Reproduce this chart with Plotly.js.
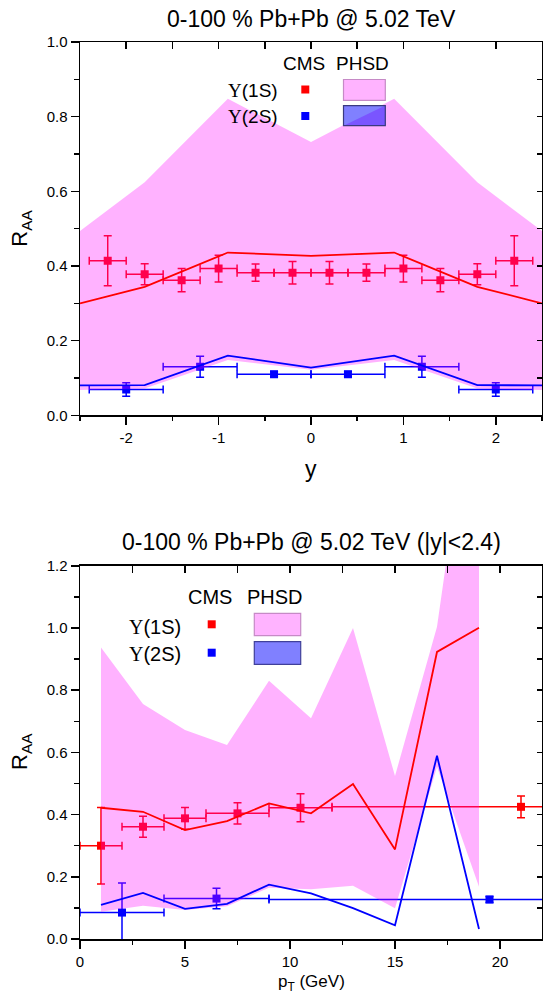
<!DOCTYPE html>
<html><head><meta charset="utf-8">
<script src="https://cdn.plot.ly/plotly-3.0.1.min.js"></script>
<style>body{margin:0;padding:0;background:#fff}</style>
</head><body><div id="chart" style="width:543px;height:998px"></div>
<script>
// ---------- top panel: rapidity dependence ----------
const cmsRap1S = [-2.2,-1.8,-1.4,-1.0,-0.6,-0.2,0.2,0.6,1.0,1.4,1.8,2.2];
const cmsRaa1S_y = [0.414,0.378,0.362,0.393,0.382,0.382,0.382,0.382,0.393,0.362,0.378,0.414];
const cmsErr1S_y = [0.067,0.028,0.031,0.036,0.023,0.030,0.030,0.023,0.036,0.031,0.028,0.067];
const cmsXErr1S_y = [0.2,0.2,0.2,0.2,0.2,0.2,0.2,0.2,0.2,0.2,0.2,0.2];

const cmsRap2S = [-2.0,-1.2,-0.4,0.4,1.2,2.0];
const cmsRaa2S_y = [0.069,0.130,0.110,0.110,0.130,0.069];
const cmsErr2S_y = [0.018,0.028,0.007,0.007,0.028,0.018];
const cmsXErr2S_y = [0.4,0.4,0.4,0.4,0.4,0.4];

const phsdRap = [-2.5,-1.8,-0.9,0.0,0.9,1.8,2.5];
const phsd1S_y = [0.300,0.344,0.436,0.427,0.436,0.344,0.300];
const phsd2S_y = [0.080,0.081,0.160,0.128,0.160,0.081,0.080];
const bandUp_y = [0.494,0.624,0.848,0.732,0.848,0.624,0.494];
const bandLo_y = [0.068,0.072,0.148,0.122,0.148,0.072,0.068];

const rapTickVals = [-2,-1,0,1,2];
const rapTickText = ['-2','-1','0','1','2'];

// ---------- bottom panel: pT dependence ----------
const cmsPt1S = [1,3,5,7.5,10.5,21];
const cmsRaa1S_pt = [0.300,0.361,0.388,0.404,0.422,0.425];
const cmsErr1S_pt = [0.123,0.034,0.035,0.034,0.045,0.035];
const cmsXErr1S_pt = [1,1,1,1.5,1.5,9];

const cmsPt2S = [2,6.5,19.5];
const cmsRaa2S_pt = [0.085,0.130,0.127];
const cmsErr2S_pt = [0.095,0.033,0.010];
const cmsXErr2S_pt = [2,2.5,10.5];

const phsdPt = [1,3,5,7,9,11,13,15,17,19];
const phsd1S_pt = [0.422,0.409,0.350,0.379,0.436,0.404,0.498,0.288,0.923,1.001];
const phsd2S_pt = [0.110,0.148,0.097,0.113,0.175,0.147,0.099,0.044,0.589,0.032];
const bandUp_pt = [0.937,0.756,0.672,0.624,0.830,0.710,1.000,0.524,1.004,1.950];
const bandLo_pt = [0.088,0.107,0.093,0.105,0.165,0.160,0.171,0.099,0.554,0.168];

// ---------- styling ----------
const RED = '#ff0000', BLUE = '#0000ff', BAND = 'rgba(255,0,255,0.3)';
const SANS = 'Liberation Sans, Arial, sans-serif';
const SERIF = 'Liberation Serif';
const W = 543, H = 998, ML = 80, MR = 1, MT = 42, MB = 59;
const fx = px => (px - ML) / (W - ML - MR);
const fy = py => (H - MB - py) / (H - MT - MB);

function cmsTrace(x, y, ey, ex, color, xa, ya) {
  return {x, y, xaxis: xa, yaxis: ya, type: 'scatter', mode: 'markers',
    marker: {symbol: 'square', size: 8, color},
    error_y: {type: 'data', array: ey, visible: true, color, thickness: 1.5, width: 4},
    error_x: {type: 'data', array: ex, visible: true, color, thickness: 1.5, width: 4},
    showlegend: false, hoverinfo: 'skip'};
}
function bandTrace(x, up, lo, xa, ya) {
  return {x: x.concat(x.slice().reverse()), y: up.concat(lo.slice().reverse()),
    xaxis: xa, yaxis: ya, type: 'scatter', mode: 'none', fill: 'toself',
    fillcolor: BAND, showlegend: false, hoverinfo: 'skip'};
}
function lineTrace(x, y, color, xa, ya) {
  return {x, y, xaxis: xa, yaxis: ya, type: 'scatter', mode: 'lines',
    line: {color, width: 1.8}, showlegend: false, hoverinfo: 'skip'};
}
function emptyTrace(xa, ya) {
  return {x: [], y: [], xaxis: xa, yaxis: ya, type: 'scatter', mode: 'markers',
    showlegend: false, hoverinfo: 'skip'};
}

const data = [
  cmsTrace(cmsRap1S, cmsRaa1S_y, cmsErr1S_y, cmsXErr1S_y, RED, 'x', 'y'),
  cmsTrace(cmsRap2S, cmsRaa2S_y, cmsErr2S_y, cmsXErr2S_y, BLUE, 'x', 'y'),
  bandTrace(phsdRap, bandUp_y, bandLo_y, 'x', 'y'),
  lineTrace(phsdRap, phsd1S_y, RED, 'x', 'y'),
  lineTrace(phsdRap, phsd2S_y, BLUE, 'x', 'y'),
  cmsTrace(cmsPt1S, cmsRaa1S_pt, cmsErr1S_pt, cmsXErr1S_pt, RED, 'x2', 'y2'),
  cmsTrace(cmsPt2S, cmsRaa2S_pt, cmsErr2S_pt, cmsXErr2S_pt, BLUE, 'x2', 'y2'),
  bandTrace(phsdPt, bandUp_pt, bandLo_pt, 'x2', 'y2'),
  lineTrace(phsdPt, phsd1S_pt, RED, 'x2', 'y2'),
  lineTrace(phsdPt, phsd2S_pt, BLUE, 'x2', 'y2'),
  emptyTrace('x3', 'y'), emptyTrace('x', 'y3'),
  emptyTrace('x4', 'y2'), emptyTrace('x2', 'y4')
];

const topDom = [fy(415.3), 1];
const botDom = [0, fy(565.8)];
const baseAx = {showline: true, linecolor: '#000', linewidth: 1.5, mirror: true,
  showgrid: false, zeroline: false, ticks: 'outside', ticklen: 8, tickwidth: 1.5,
  tickcolor: '#000', tickfont: {family: SANS, size: 15, color: '#000'}, fixedrange: true};
const overAx = {showline: false, showgrid: false, zeroline: false, ticks: 'inside',
  tickwidth: 1.5, tickcolor: '#000', showticklabels: false, fixedrange: true};

const layout = {
  width: W, height: H, margin: {l: ML, r: MR, t: MT, b: MB},
  paper_bgcolor: '#fff', plot_bgcolor: '#fff', showlegend: false,
  font: {family: SANS, color: '#000'},
  xaxis: Object.assign({}, baseAx, {domain: [0, 1], anchor: 'y', range: [-2.5, 2.5],
    tickvals: rapTickVals, ticktext: rapTickText,
    minor: {tick0: 0, dtick: 0.5, ticks: 'outside', ticklen: 4.5, tickwidth: 1.5, tickcolor: '#000'}}),
  yaxis: Object.assign({}, baseAx, {domain: topDom, anchor: 'x', range: [0, 1],
    dtick: 0.2, tick0: 0, tickformat: '.1f',
    minor: {tick0: 0, dtick: 0.1, ticks: 'outside', ticklen: 4.5, tickwidth: 1.5, tickcolor: '#000'}}),
  xaxis3: Object.assign({}, overAx, {overlaying: 'x', anchor: 'y', side: 'top',
    range: [-2.5, 2.5], tick0: 0, dtick: 0.5, ticklen: 7}),
  yaxis3: Object.assign({}, overAx, {overlaying: 'y', anchor: 'x', side: 'right',
    range: [0, 1], tick0: 0, dtick: 0.1, ticklen: 5}),
  xaxis2: Object.assign({}, baseAx, {domain: [0, 1], anchor: 'y2', range: [0, 22],
    tick0: 0, dtick: 5,
    minor: {tick0: 0, dtick: 2.5, ticks: 'outside', ticklen: 4.5, tickwidth: 1.5, tickcolor: '#000'}}),
  yaxis2: Object.assign({}, baseAx, {domain: botDom, anchor: 'x2', range: [0, 1.2],
    tick0: 0, dtick: 0.2, tickformat: '.1f',
    minor: {tick0: 0, dtick: 0.1, ticks: 'outside', ticklen: 4.5, tickwidth: 1.5, tickcolor: '#000'}}),
  xaxis4: Object.assign({}, overAx, {overlaying: 'x2', anchor: 'y2', side: 'top',
    range: [0, 22], tick0: 0, dtick: 2.5, ticklen: 7}),
  yaxis4: Object.assign({}, overAx, {overlaying: 'y2', anchor: 'x2', side: 'right',
    range: [0, 1.2], tick0: 0, dtick: 0.1, ticklen: 5}),
  annotations: [],
  shapes: []
};

function txt(text, px, py, size, extra) {
  layout.annotations.push(Object.assign({text, x: fx(px), y: fy(py), xref: 'paper', yref: 'paper',
    xanchor: 'center', yanchor: 'middle', showarrow: false,
    font: {family: SANS, size, color: '#000'}}, extra || {}));
}
function rect(x0, y0, x1, y1, fill, lineColor) {
  layout.shapes.push({type: 'rect', xref: 'paper', yref: 'paper',
    x0: fx(x0), x1: fx(x1), y0: fy(y0), y1: fy(y1), fillcolor: fill,
    line: {color: lineColor || fill, width: lineColor ? 1.2 : 0}, layer: 'above'});
}
const ups = s => '<span style="font-family:' + SERIF + '">\u03A5</span>(' + s + ')';

// titles
txt('0-100 % Pb+Pb @ 5.02 TeV', 311, 19, 23);
txt('0-100 % Pb+Pb @ 5.02 TeV (|y|<2.4)', 311, 542, 23);
txt('y', 311, 469, 23);
txt('p<sub>T</sub> (GeV)', 311, 983, 17);
txt('R<sub>AA</sub>', 21, 228.7, 22, {textangle: -90});
txt('R<sub>AA</sub>', 21, 752, 22, {textangle: -90});

// legend top
txt('CMS', 303.7, 63.4, 19);
txt('PHSD', 362, 63.4, 19);
txt(ups('1S'), 253, 90.2, 19);
txt(ups('2S'), 253, 116.3, 19);
rect(301.3, 85.5, 309.3, 93.5, RED);
rect(301.3, 112, 309.3, 120, BLUE);
rect(343.5, 79.5, 385.3, 100.3, '#ffb3ff', '#c68ac6');
rect(343.5, 105.6, 385.3, 125.7, '#8080ff');
layout.shapes.push({type: 'path', xref: 'paper', yref: 'paper', layer: 'above',
  path: 'M' + fx(343.5) + ',' + fy(125.7) + ' L' + fx(385.3) + ',' + fy(105.6) + ' L' + fx(385.3) + ',' + fy(125.7) + ' Z',
  fillcolor: '#7a55ff', line: {width: 0}});
rect(343.5, 105.6, 385.3, 125.7, 'rgba(0,0,0,0)', '#3a3a80');

// legend bottom
txt('CMS', 210, 596.7, 20);
txt('PHSD', 275, 596.7, 20);
txt(ups('1S'), 155, 626.7, 20);
txt(ups('2S'), 155, 654.3, 20);
rect(207.7, 620.3, 215.7, 628.3, RED);
rect(207.7, 648.7, 215.7, 656.7, BLUE);
rect(254.3, 613.3, 300.7, 635.7, '#ffb3ff', '#c68ac6');
rect(254.3, 641.7, 300.7, 664.3, '#8080ff', '#40409a');

Plotly.newPlot('chart', data, layout, {staticPlot: true, displayModeBar: false});
</script></body></html>
